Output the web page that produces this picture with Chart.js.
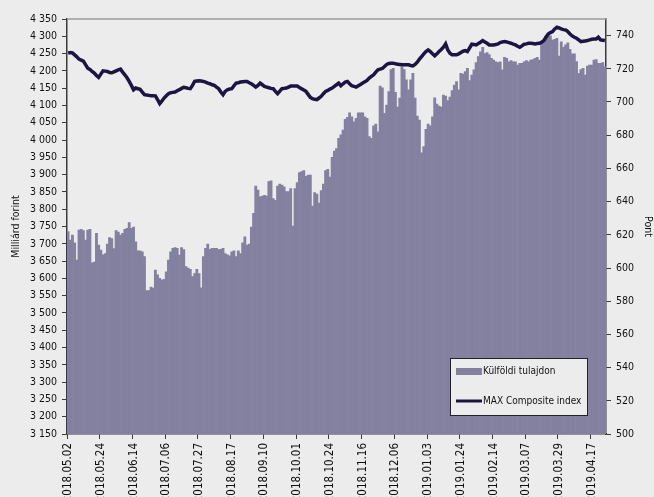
<!DOCTYPE html>
<html>
<head>
<meta charset="utf-8">
<script src="https://cdn.jsdelivr.net/npm/chart.js@4.4.0/dist/chart.umd.min.js"></script>
<style>
html, body { margin: 0; padding: 0; background: #ececec; overflow: hidden; }
canvas { display: block; }
</style>
</head>
<body>
<canvas id="chart" width="654" height="497"></canvas>
<script>
/* Külföldi tulajdon vs MAX Composite index, 2018.05 - 2019.04 */

// x tengely feliratai (minden 15. nap)
const tickLabels = [
  "2018.05.02", "2018.05.24", "2018.06.14", "2018.07.06", "2018.07.27", "2018.08.17",
  "2018.09.10", "2018.10.01", "2018.10.24", "2018.11.16", "2018.12.06", "2019.01.03",
  "2019.01.24", "2019.02.14", "2019.03.07", "2019.03.29", "2019.04.17"
];
const labelStep = 15;

// Külföldi tulajdon, milliárd forint
const foreignOwned = [
  3735, 3711, 3725, 3703, 3653, 3740, 3742, 3738, 3711, 3740,
  3742, 3645, 3647, 3730, 3696, 3682, 3668, 3672, 3699, 3718,
  3715, 3686, 3738, 3734, 3725, 3730, 3742, 3745, 3761, 3745,
  3748, 3706, 3680, 3680, 3677, 3663, 3565, 3565, 3575, 3572,
  3624, 3610, 3600, 3595, 3597, 3619, 3653, 3677, 3687, 3689,
  3687, 3667, 3689, 3683, 3634, 3630, 3626, 3605, 3614, 3626,
  3614, 3573, 3663, 3687, 3699, 3684, 3687, 3687, 3687, 3683,
  3684, 3687, 3672, 3668, 3665, 3677, 3680, 3663, 3680, 3672,
  3703, 3720, 3696, 3699, 3748, 3788, 3867, 3855, 3836, 3838,
  3840, 3838, 3880, 3882, 3831, 3826, 3867, 3873, 3870, 3865,
  3851, 3851, 3860, 3751, 3860, 3877, 3906, 3909, 3912, 3895,
  3899, 3899, 3809, 3848, 3844, 3818, 3854, 3873, 3912, 3915,
  3893, 3950, 3968, 3975, 4005, 4015, 4029, 4060, 4066, 4079,
  4067, 4053, 4063, 4079, 4079, 4079, 4067, 4063, 4010, 4005,
  4041, 4046, 4024, 4156, 4151, 4077, 4101, 4140, 4204, 4207,
  4138, 4095, 4121, 4212, 4204, 4174, 4145, 4174, 4193, 4121,
  4069, 4058, 3963, 3981, 4031, 4046, 4041, 4067, 4122, 4104,
  4098, 4095, 4130, 4127, 4114, 4124, 4143, 4159, 4169, 4145,
  4193, 4191, 4198, 4207, 4172, 4188, 4203, 4224, 4241, 4255,
  4268, 4250, 4253, 4247, 4236, 4231, 4226, 4224, 4226, 4203,
  4239, 4236, 4226, 4230, 4226, 4226, 4217, 4222, 4222, 4226,
  4230, 4226, 4231, 4233, 4236, 4239, 4231, 4278, 4289, 4301,
  4307, 4301, 4289, 4291, 4294, 4243, 4284, 4268, 4275, 4281,
  4262, 4249, 4249, 4227, 4193, 4204, 4207, 4188, 4214, 4217,
  4217, 4231, 4233, 4222, 4222, 4224, 4212
];

// MAX Composite index, pont
const maxComposite = [
  729.4, 729.8, 729.6, 728.4, 727.2, 725.8, 725.2, 724.6, 722.5, 720.4,
  719.6, 718.4, 717.4, 716.0, 714.8, 716.8, 718.8, 718.6, 718.4, 717.8,
  717.6, 718.2, 718.8, 719.4, 719.8, 718.0, 716.4, 714.6, 712.4, 710.0,
  707.4, 708.4, 708.0, 707.6, 706.0, 704.4, 704.2, 704.0, 703.8, 703.8,
  703.7, 701.4, 699.0, 700.6, 702.4, 703.8, 705.0, 705.6, 705.8, 706.0,
  706.8, 707.4, 708.2, 708.8, 708.6, 708.2, 708.0, 710.0, 712.4, 712.6,
  712.8, 712.6, 712.4, 712.0, 711.4, 711.0, 710.4, 710.0, 709.0, 708.0,
  706.0, 704.4, 706.4, 707.4, 707.8, 708.0, 709.8, 711.4, 711.6, 712.0,
  712.2, 712.4, 712.4, 711.6, 711.0, 710.0, 709.0, 710.0, 711.4, 710.4,
  709.4, 709.0, 708.6, 708.2, 708.0, 706.4, 705.0, 706.6, 708.0, 708.2,
  708.4, 709.0, 709.6, 709.6, 709.6, 709.6, 708.8, 708.0, 707.2, 706.4,
  704.6, 702.8, 702.0, 701.6, 701.4, 702.4, 703.4, 705.0, 706.4, 707.0,
  707.8, 708.4, 709.4, 710.4, 711.4, 709.8, 711.0, 712.0, 712.4, 711.0,
  709.8, 709.4, 709.0, 709.8, 710.6, 711.4, 712.2, 713.0, 714.4, 715.4,
  716.4, 718.0, 719.4, 719.8, 720.2, 721.4, 722.6, 723.2, 723.4, 723.4,
  723.0, 722.8, 722.6, 722.4, 722.4, 722.4, 722.4, 722.0, 721.8, 722.6,
  724.0, 725.8, 727.4, 729.0, 730.4, 731.4, 730.4, 729.0, 727.8, 729.0,
  730.4, 731.6, 733.0, 735.0, 731.4, 729.4, 728.4, 728.4, 728.4, 729.0,
  729.8, 730.6, 731.0, 730.4, 732.6, 734.8, 734.6, 734.4, 735.2, 736.0,
  737.0, 736.2, 735.4, 734.4, 734.4, 734.4, 734.6, 735.0, 735.8, 736.2,
  736.4, 736.2, 735.8, 735.4, 734.8, 734.4, 733.6, 733.0, 733.8, 734.8,
  735.0, 735.4, 735.4, 735.2, 735.0, 735.2, 735.4, 736.0, 737.0, 739.0,
  741.0, 741.8, 742.4, 744.0, 745.0, 744.6, 744.0, 743.6, 743.4, 742.4,
  741.0, 739.8, 739.0, 738.4, 737.4, 736.4, 736.6, 736.8, 737.0, 737.4,
  737.8, 737.9, 738.0, 739.0, 737.4, 737.2, 737.0
];

// tengelyek
const leftMin = 3150, leftMax = 4350, leftStep = 50;
const rightMax = 750;
const rightTicks = [500, 520, 540, 560, 580, 600, 620, 640, 660, 680, 700, 720, 740];

const categories = foreignOwned.map((v, i) => i % labelStep === 0 ? tickLabels[i / labelStep] : "");

const barColor = "#83819f";
const lineColor = "#1d1443";
const axisColor = "#3a3a3a";
const fontFamily = '"DejaVu Sans Condensed", "Liberation Sans Narrow", "Liberation Sans", sans-serif';

Chart.defaults.font.family = fontFamily;
Chart.defaults.font.size = 10.5;
Chart.defaults.color = "#111";

function spaced(v) {
  return String(v).replace(/\B(?=(\d{3})+(?!\d))/g, " ");
}

// keret felül + jelmagyarázat a rajzterületen belül
const frameAndLegend = {
  id: "frameAndLegend",
  afterDraw(chart) {
    const ctx = chart.ctx;
    const a = chart.chartArea;
    ctx.save();
    ctx.strokeStyle = "#9c9c9c";
    ctx.lineWidth = 1.5;
    ctx.beginPath();
    ctx.moveTo(a.left, a.top);
    ctx.lineTo(a.right, a.top);
    ctx.stroke();

    const w = 137, h = 57;
    const x = a.right - 19 - w, y = a.bottom - 19 - h;
    ctx.fillStyle = "#ececec";
    ctx.fillRect(x, y, w, h);
    ctx.strokeStyle = "#222";
    ctx.lineWidth = 1;
    ctx.strokeRect(x + 0.5, y + 0.5, w, h);

    const ds = chart.data.datasets;
    ctx.font = "10px " + fontFamily;
    ctx.textBaseline = "middle";

    ctx.fillStyle = barColor;
    ctx.fillRect(x + 6, y + 10, 26, 7);
    ctx.fillStyle = "#111";
    ctx.fillText(ds[0].label, x + 33, y + 13);

    ctx.strokeStyle = lineColor;
    ctx.lineWidth = 3;
    ctx.beginPath();
    ctx.moveTo(x + 6, y + 43);
    ctx.lineTo(x + 32, y + 43);
    ctx.stroke();
    ctx.fillText(ds[1].label, x + 33, y + 43);
    ctx.restore();
  }
};

new Chart(document.getElementById("chart"), {
  type: "bar",
  data: {
    labels: categories,
    datasets: [
      {
        type: "bar",
        label: "Külföldi tulajdon",
        data: foreignOwned,
        backgroundColor: barColor,
        barPercentage: 1,
        categoryPercentage: 1,
        yAxisID: "y",
        order: 2
      },
      {
        type: "line",
        label: "MAX Composite index",
        data: maxComposite,
        borderColor: lineColor,
        borderWidth: 3.5,
        pointRadius: 0,
        tension: 0,
        yAxisID: "y1",
        order: 1
      }
    ]
  },
  options: {
    responsive: false,
    animation: false,
    devicePixelRatio: 1,
    layout: { padding: { top: 19, left: 0, right: 0, bottom: 0 } },
    plugins: { legend: { display: false }, tooltip: { enabled: false } },
    scales: {
      x: {
        afterFit: s => { s.height = 63; },
        grid: {
          drawOnChartArea: false,
          tickLength: 5,
          color: c => (c.index % labelStep === 0 ? axisColor : "rgba(0,0,0,0)")
        },
        border: { display: true, color: axisColor, width: 1.5 },
        ticks: { autoSkip: false, minRotation: 90, maxRotation: 90, padding: 4, font: { size: 11.5 } }
      },
      y: {
        position: "left",
        min: leftMin,
        max: leftMax,
        afterFit: s => { s.width = 67; },
        grid: { drawOnChartArea: false, tickLength: 5, color: axisColor },
        border: { display: true, color: axisColor, width: 1.5 },
        ticks: { stepSize: leftStep, autoSkip: false, padding: 5, callback: v => spaced(v) },
        title: { display: true, text: "Milliárd forint", font: { size: 10.5 }, padding: { top: 10, bottom: 0 } }
      },
      y1: {
        position: "right",
        min: rightTicks[0],
        max: rightMax,
        afterFit: s => { s.width = 48; },
        afterBuildTicks: s => { s.ticks = rightTicks.map(v => ({ value: v })); },
        grid: { drawOnChartArea: false, tickLength: 5, color: axisColor },
        border: { display: true, color: axisColor, width: 1.5 },
        ticks: { autoSkip: false, padding: 5 },
        title: { display: true, text: "Pont", font: { size: 10.5 }, padding: { top: 0, bottom: 0 } }
      }
    }
  },
  plugins: [frameAndLegend]
});
</script>
</body>
</html>
